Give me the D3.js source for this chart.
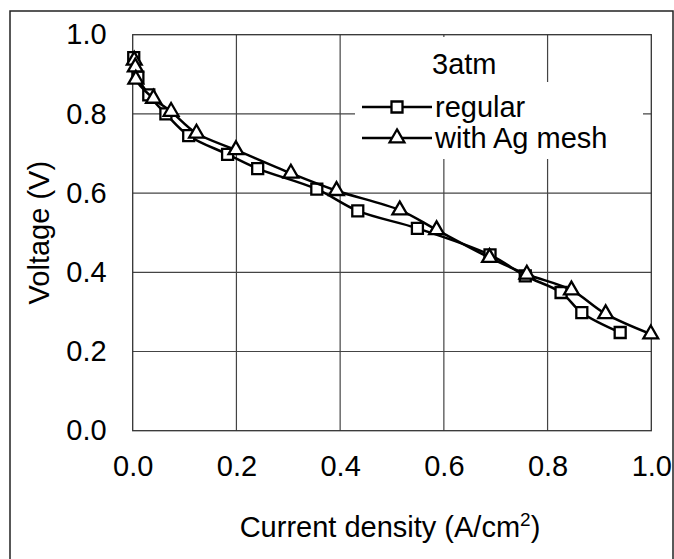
<!DOCTYPE html>
<html><head><meta charset="utf-8">
<script src="https://cdn.jsdelivr.net/npm/d3@7"></script>
<style>
html,body{margin:0;padding:0;background:#fff;}
svg{display:block;font-family:"Liberation Sans",Arial,sans-serif;}
</style></head>
<body>
<svg id="chart" width="674" height="559"></svg>
<script>
const regularX = [0.002, 0.010, 0.031, 0.064, 0.108, 0.183, 0.241, 0.355, 0.434, 0.549, 0.689, 0.757, 0.826, 0.866, 0.940];
const regularV = [0.942, 0.893, 0.848, 0.800, 0.745, 0.698, 0.662, 0.610, 0.555, 0.511, 0.444, 0.391, 0.349, 0.298, 0.248];
const agX = [0.003, 0.005, 0.006, 0.040, 0.074, 0.123, 0.199, 0.305, 0.393, 0.515, 0.586, 0.688, 0.760, 0.846, 0.912, 0.999];
const agV = [0.935, 0.918, 0.887, 0.839, 0.806, 0.751, 0.709, 0.650, 0.606, 0.557, 0.507, 0.437, 0.395, 0.355, 0.295, 0.244];
const xTicks = [0.0, 0.2, 0.4, 0.6, 0.8, 1.0];
const yTicks = [0.0, 0.2, 0.4, 0.6, 0.8, 1.0];
const seriesNames = ["regular", "with Ag mesh"];
const legendTitle = "3atm";

const svg = d3.select("#chart");
const plot = {left: 132.7, top: 34.7, right: 651.3, bottom: 430.7};
const FS = 29;

// outer border
svg.append("rect").attr("x", 10).attr("y", 11).attr("width", 663).attr("height", 560)
  .attr("fill", "#fff").attr("stroke", "#222").attr("stroke-width", 1.5);

const x = d3.scaleLinear().domain([0, 1]).range([plot.left, plot.right]);
const y = d3.scaleLinear().domain([0, 1]).range([plot.bottom, plot.top]);

// gridlines
const grid = svg.append("g");
grid.selectAll("line.v").data(xTicks.slice(1, -1)).join("line")
  .attr("x1", d => x(d)).attr("x2", d => x(d)).attr("y1", plot.top).attr("y2", plot.bottom)
  .attr("stroke", "#444").attr("stroke-width", 1.2);
grid.selectAll("line.h").data(yTicks.slice(1, -1)).join("line")
  .attr("x1", plot.left).attr("x2", plot.right).attr("y1", d => y(d)).attr("y2", d => y(d))
  .attr("stroke", "#444").attr("stroke-width", 1.2);

// legend backgrounds (cover gridlines)
svg.append("rect").attr("x", 410).attr("y", 37).attr("width", 92).attr("height", 46).attr("fill", "#fff");
svg.append("rect").attr("x", 355).attr("y", 82).attr("width", 288).attr("height", 77).attr("fill", "#fff");

// plot frame
svg.append("rect").attr("x", plot.left).attr("y", plot.top)
  .attr("width", plot.right - plot.left).attr("height", plot.bottom - plot.top)
  .attr("fill", "none").attr("stroke", "#333").attr("stroke-width", 1.3);

// axes
const xAxis = d3.axisBottom(x).tickValues(xTicks).tickFormat(d3.format(".1f")).tickSize(0).tickPadding(25);
const gx = svg.append("g").attr("transform", `translate(0,${plot.bottom})`).call(xAxis);
gx.select(".domain").remove();
gx.selectAll("text").attr("font-size", FS).attr("font-family", "Liberation Sans, Arial, sans-serif").attr("fill", "#000");

const yAxis = d3.axisLeft(y).tickValues(yTicks).tickFormat(d3.format(".1f")).tickSize(0).tickPadding(26);
const gy = svg.append("g").attr("transform", `translate(${plot.left},0)`).call(yAxis);
gy.select(".domain").remove();
gy.selectAll("text").attr("font-size", FS).attr("font-family", "Liberation Sans, Arial, sans-serif").attr("fill", "#000");

// axis titles
const xt = svg.append("text").attr("x", 390).attr("y", 537)
  .attr("text-anchor", "middle").attr("font-size", FS).attr("fill", "#000");
xt.append("tspan").text("Current density (A/cm");
xt.append("tspan").attr("dy", -11).attr("font-size", 19).text("2");
xt.append("tspan").attr("dy", 11).text(")");

svg.append("text").attr("transform", `translate(49,${(plot.top + plot.bottom) / 2}) rotate(-90)`)
  .attr("text-anchor", "middle").attr("font-size", FS).attr("fill", "#000").text("Voltage (V)");

// series
const line = d3.line().x(d => x(d[0])).y(d => y(d[1])).curve(d3.curveCatmullRom.alpha(0.5));
const regData = regularX.map((v, i) => [v, regularV[i]]);
const agData = agX.map((v, i) => [v, agV[i]]);

const sq = d3.symbol().type(d3.symbolSquare).size(121);
const tri = d3.symbol().type(d3.symbolTriangle).size(95);

svg.append("path").datum(regData).attr("d", line).attr("fill", "none").attr("stroke", "#000").attr("stroke-width", 2.5);
svg.append("g").selectAll("path").data(regData).join("path")
  .attr("transform", d => `translate(${x(d[0])},${y(d[1])})`).attr("d", sq)
  .attr("fill", "#fff").attr("stroke", "#000").attr("stroke-width", 2.3);

svg.append("path").datum(agData).attr("d", line).attr("fill", "none").attr("stroke", "#000").attr("stroke-width", 2.5);
svg.append("g").selectAll("path").data(agData).join("path")
  .attr("transform", d => `translate(${x(d[0])},${y(d[1])})`).attr("d", tri)
  .attr("fill", "#fff").attr("stroke", "#000").attr("stroke-width", 2.3);

// legend
svg.append("text").attr("x", 432).attr("y", 74).attr("font-size", FS).attr("fill", "#000").text(legendTitle);
const legY = [107, 138];
const legSyms = [sq, tri];
seriesNames.forEach((name, i) => {
  svg.append("line").attr("x1", 362).attr("x2", 432).attr("y1", legY[i]).attr("y2", legY[i])
    .attr("stroke", "#000").attr("stroke-width", 2.5);
  svg.append("path").attr("transform", `translate(397,${legY[i]})`).attr("d", legSyms[i])
    .attr("fill", "#fff").attr("stroke", "#000").attr("stroke-width", 2.3);
  svg.append("text").attr("x", 435).attr("y", legY[i] + 10).attr("font-size", FS).attr("fill", "#000").text(name);
});
</script>
</body></html>
